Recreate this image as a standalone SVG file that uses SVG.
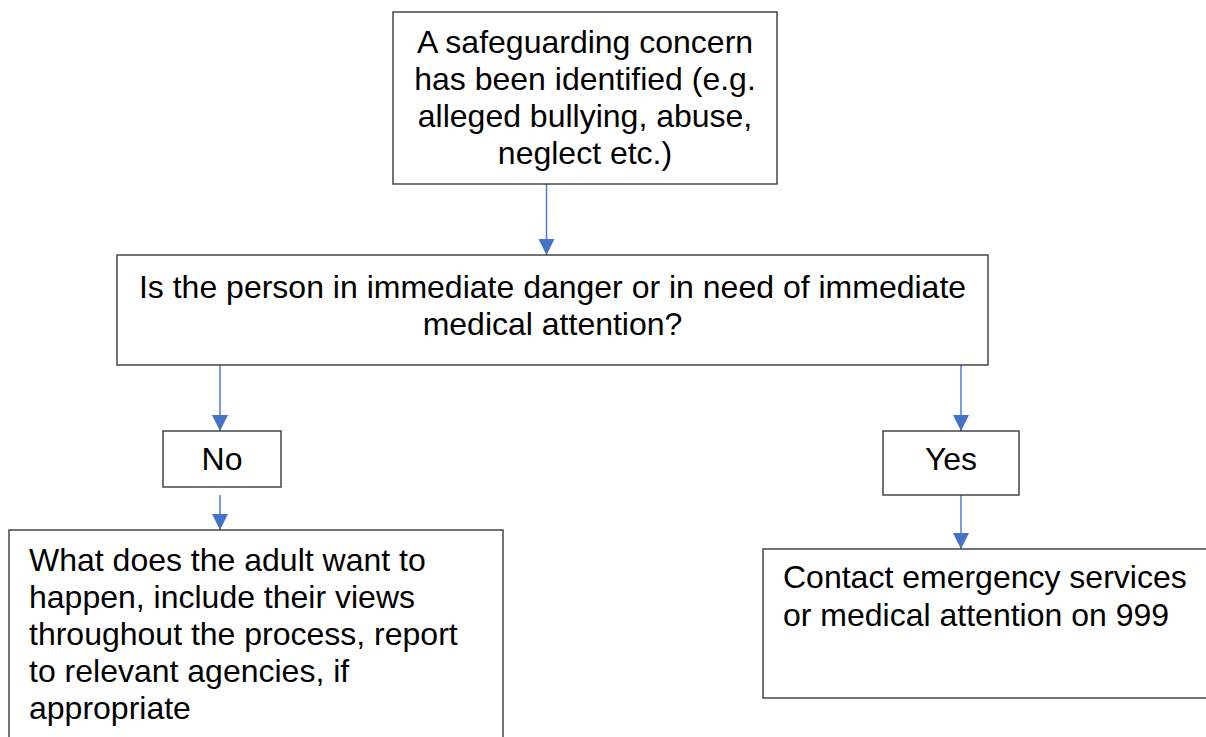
<svg xmlns="http://www.w3.org/2000/svg" width="1206" height="737" viewBox="0 0 1206 737">
<style>
.box{fill:#fff;stroke:#3a3a3a;stroke-width:1.4}
.t{font-family:"Liberation Sans",Arial,sans-serif;font-size:32px;fill:#000}
.c{text-anchor:middle}
.conn{stroke:#4472C4;stroke-width:1.4;fill:none}
</style>
<defs>
<marker id="ah" markerUnits="userSpaceOnUse" markerWidth="16" markerHeight="16" refX="16" refY="8" orient="auto" viewBox="0 0 16 16">
<path d="M0,0 L16,8 L0,16 z" fill="#4472C4"/>
</marker>
</defs>
<g id="connectors">
<line class="conn" x1="546.5" y1="184" x2="546.5" y2="255" marker-end="url(#ah)"/>
<line class="conn" x1="220" y1="365" x2="220" y2="431" marker-end="url(#ah)"/>
<line class="conn" x1="220" y1="495" x2="220" y2="530" marker-end="url(#ah)"/>
<line class="conn" x1="961" y1="365" x2="961" y2="431" marker-end="url(#ah)"/>
<line class="conn" x1="961" y1="495" x2="961" y2="549" marker-end="url(#ah)"/>
</g>
<g id="concern">
<rect class="box" x="393" y="12" width="384" height="172"/>
<text class="t c" x="585" y="53">A safeguarding concern</text>
<text class="t c" x="585" y="90">has been identified (e.g.</text>
<text class="t c" x="585" y="127">alleged bullying, abuse,</text>
<text class="t c" x="585" y="164">neglect etc.)</text>
</g>
<g id="question">
<rect class="box" x="117" y="255" width="871" height="110"/>
<text class="t c" x="552.5" y="298">Is the person in immediate danger or in need of immediate</text>
<text class="t c" x="552.5" y="335">medical attention?</text>
</g>
<g id="no">
<rect class="box" x="163" y="431" width="118" height="56"/>
<text class="t c" x="222" y="470">No</text>
</g>
<g id="yes">
<rect class="box" x="883" y="431" width="136" height="64"/>
<text class="t c" x="951" y="470">Yes</text>
</g>
<g id="adult">
<rect class="box" x="9" y="530" width="494" height="240"/>
<text class="t" x="29" y="571">What does the adult want to</text>
<text class="t" x="29" y="608">happen, include their views</text>
<text class="t" x="29" y="645">throughout the process, report</text>
<text class="t" x="29" y="682">to relevant agencies, if</text>
<text class="t" x="29" y="719">appropriate</text>
</g>
<g id="emergency">
<rect class="box" x="763" y="549" width="460" height="149"/>
<text class="t" x="783" y="588">Contact emergency services</text>
<text class="t" x="783" y="626">or medical attention on 999</text>
</g>
</svg>
